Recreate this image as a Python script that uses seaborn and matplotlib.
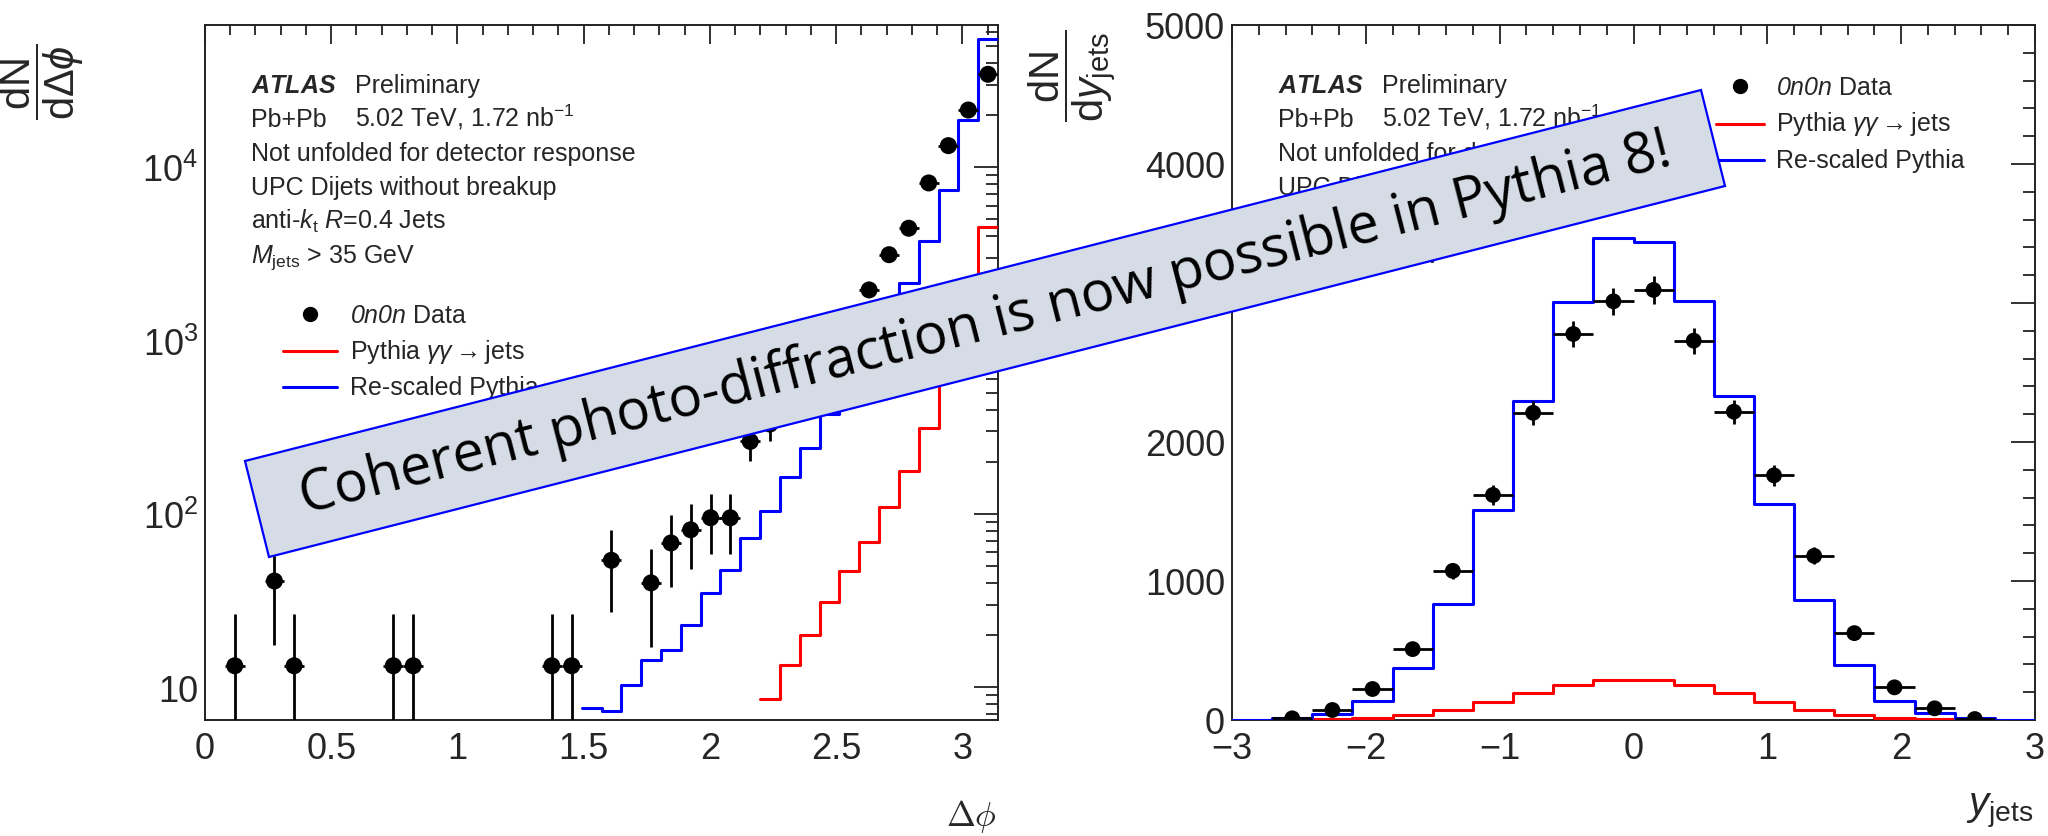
import numpy as np
import matplotlib
matplotlib.use("Agg")
import matplotlib.pyplot as plt
import matplotlib.ticker as mticker
from matplotlib.patches import Polygon
from matplotlib.lines import Line2D
import seaborn as sns

# ─── data: left panel, dN/dΔφ (40 bins over [0, π]) ──────────────────────────
DPHI_EDGES = np.linspace(0, np.pi, 41)
dphi_x = [0.118, 0.275, 0.353, 0.746, 0.825, 1.374, 1.453, 1.610, 1.767, 1.846,
          1.924, 2.003, 2.081, 2.160, 2.238, 2.317, 2.395, 2.474, 2.553, 2.631,
          2.710, 2.788, 2.867, 2.945, 3.024, 3.102]
dphi_data = [13.3, 41, 13.3, 13.3, 13.3, 13.3, 13.3, 54, 40, 68,
             81, 95, 95, 262, 330, 470, 680, 960, 1380, 1960,
             3130, 4450, 8120, 13330, 21400, 34400]
dphi_err = [13.3, 23.5, 13.3, 13.3, 13.3, 13.3, 13.3, 27, 23, 30,
            33, 36, 36, 59, 66, 79, 95, 113, 135, 161,
            203, 242, 328, 420, 530, 675]
# histograms start at bin 19 (re-scaled) and bin 28 (pythia)
dphi_rescaled = [7.6, 7.3, 10.3, 14.4, 16.3, 23, 34.8, 47.3, 72.4, 104.5,
                 164, 241, 377, 583, 900, 1390, 2150, 3770, 7430, 18740, 55000]
dphi_pythia = [8.6, 13.5, 20, 31, 46.7, 69, 109, 178, 312, 760, 1850, 4510]

# ─── data: right panel, dN/dy_jets (20 bins over [-3, 3]) ─────────────────────
Y_EDGES = np.linspace(-3, 3, 21)
yj_x = [-2.55, -2.25, -1.95, -1.65, -1.35, -1.05, -0.75, -0.45, -0.15,
        0.15, 0.45, 0.75, 1.05, 1.35, 1.65, 1.95, 2.25, 2.55]
yj_data = [12, 72, 223, 510, 1073, 1619, 2210, 2777, 3012,
           3094, 2729, 2218, 1760, 1181, 625, 235, 84, 7]
yj_err = [6, 15, 27, 40, 59, 72, 85, 95, 99,
          100, 94, 85, 76, 62, 45, 28, 16, 5]
yj_rescaled = [0, 12, 43, 139, 374, 831, 1511, 2295, 3010, 3465,
               3441, 3017, 2333, 1553, 866, 398, 139, 50, 12, 0]
yj_pythia = [0, 2, 7, 12, 36, 72, 132, 194, 254, 288,
             288, 254, 194, 130, 72, 36, 14, 7, 3, 0]

INFO_LINES = [
    ("Pb+Pb", "5.02 TeV, 1.72 nb$^{-1}$"),
    ("Not unfolded for detector response", None),
    ("UPC Dijets without breakup", None),
    (r"anti-$k_{\mathrm{t}}$ $R$=0.4 Jets", None),
    (r"$M_{\mathrm{jets}}$ > 35 GeV", None),
]
LEGEND_LABELS = [r"$\mathsf{0n0n}$ Data", r"Pythia $\gamma\gamma\rightarrow$jets", "Re-scaled Pythia"]
BANNER_TEXT = "Coherent photo-diffraction is now possible in Pythia 8!"

RED, BLUE = "#ff0000", "#0000ff"
W, H = 2048, 837

sns.set_style("white")
plt.rcParams.update({
    "font.family": ["Liberation Sans", "DejaVu Sans"],
    "mathtext.fontset": "custom",
    "mathtext.rm": "Liberation Sans",
    "mathtext.it": "Liberation Sans:italic",
    "mathtext.bf": "Liberation Sans:italic:bold",
    "mathtext.sf": "Liberation Sans:italic",
    "axes.unicode_minus": True,
})


def fx(px):
    return px / W


def fy(py):
    return 1 - py / H


def steps(ax, edges, values, color):
    xs = list(edges)
    ys = list(values) + [values[-1]]
    sns.lineplot(x=xs, y=ys, drawstyle="steps-post", color=color, linewidth=2.2,
                 estimator=None, sort=False, ax=ax, legend=False, zorder=3)


def points(ax, x, y, err, xerr, ms):
    ax.errorbar(x, y, yerr=err, xerr=xerr, fmt="none", ecolor="black",
                elinewidth=2.0, capsize=0, zorder=4)
    sns.scatterplot(x=x, y=y, color="black", s=ms, edgecolor="none", ax=ax,
                    zorder=5, legend=False)


def style_axes(ax):
    for sp in ax.spines.values():
        sp.set_linewidth(1.4)
        sp.set_color("#222222")
    ax.tick_params(which="both", direction="in", top=True, right=True,
                   width=1.3, color="#222222", labelsize=26)
    ax.tick_params(axis="x", which="major", length=13.5, pad=8)
    ax.tick_params(axis="x", which="minor", length=7)
    ax.tick_params(axis="y", which="major", length=17, pad=5)
    ax.tick_params(axis="y", which="minor", length=8.5)
    ax.set_xlabel("")
    ax.set_ylabel("")


def info_block(ax_left):
    x1, x2 = ax_left + 46, ax_left + 150
    fig.text(fx(x1), fy(93), r"$\mathbf{ATLAS}$", fontsize=18, va="baseline")
    fig.text(fx(x2), fy(93), "Preliminary", fontsize=18, va="baseline")
    for i, (a, b) in enumerate(INFO_LINES):
        yb = 127 + i * 34
        fig.text(fx(x1), fy(yb), a, fontsize=18, va="baseline")
        if b:
            fig.text(fx(x2), fy(yb), b, fontsize=18, va="baseline")


def legend_block(xl0, xl1, xt, y0, dy):
    xm = (xl0 + xl1) / 2
    fig.add_artist(Line2D([fx(xm)], [fy(y0 - 8)], marker="o", markersize=10,
                          color="black", transform=fig.transFigure))
    fig.add_artist(Line2D([fx(xl0), fx(xl1)], [fy(y0 + dy - 7)] * 2, color=RED,
                          linewidth=2.2, transform=fig.transFigure))
    fig.add_artist(Line2D([fx(xl0), fx(xl1)], [fy(y0 + 2 * dy - 7)] * 2, color=BLUE,
                          linewidth=2.2, transform=fig.transFigure))
    for i, lab in enumerate(LEGEND_LABELS):
        fig.text(fx(xt), fy(y0 + i * dy), lab, fontsize=18, va="baseline")


fig = plt.figure(figsize=(W / 100, H / 100), dpi=100)
ax1 = fig.add_axes([fx(205), fy(721), (998 - 205) / W, (721 - 26) / H])
ax2 = fig.add_axes([fx(1232), fy(721), (2035 - 1232) / W, (721 - 26) / H])

# ─── left: Δφ, log scale ─────────────────────────────────────────────────────
ax1.set_yscale("log", nonpositive="clip")
steps(ax1, DPHI_EDGES[19:], dphi_rescaled, BLUE)
steps(ax1, DPHI_EDGES[28:], dphi_pythia, RED)
points(ax1, dphi_x, dphi_data, dphi_err, (DPHI_EDGES[1] - DPHI_EDGES[0]) / 2, 150)
ax1.set_xlim(0, np.pi)
ax1.set_ylim(6.47, 66200)
ax1.xaxis.set_major_locator(mticker.MultipleLocator(0.5))
ax1.xaxis.set_minor_locator(mticker.MultipleLocator(0.1))
ax1.xaxis.set_major_formatter(mticker.FuncFormatter(lambda v, _: f"{v:g}"))
ax1.yaxis.set_major_locator(mticker.LogLocator(base=10, numticks=10))
ax1.yaxis.set_minor_locator(mticker.LogLocator(base=10, subs=np.arange(2, 10) * 1.0, numticks=20))
ax1.yaxis.set_minor_formatter(mticker.NullFormatter())
ax1.yaxis.set_major_formatter(mticker.FuncFormatter(
    lambda v, _: "10" if abs(v - 10) < 1e-6 else r"$\mathregular{10^{%d}}$" % round(np.log10(v))))
style_axes(ax1)

# ─── right: y_jets, linear ───────────────────────────────────────────────────
steps(ax2, Y_EDGES, yj_pythia, RED)
steps(ax2, Y_EDGES, yj_rescaled, BLUE)
points(ax2, yj_x, yj_data, yj_err, (Y_EDGES[1] - Y_EDGES[0]) / 2, 130)
ax2.set_xlim(-3, 3)
ax2.set_ylim(0, 5000)
ax2.xaxis.set_major_locator(mticker.MultipleLocator(1))
ax2.xaxis.set_minor_locator(mticker.MultipleLocator(0.2))
ax2.yaxis.set_major_locator(mticker.MultipleLocator(1000))
ax2.yaxis.set_minor_locator(mticker.MultipleLocator(200))
style_axes(ax2)

# ─── texts ───────────────────────────────────────────────────────────────────
info_block(205)
info_block(1232)
legend_block(283, 337, 350, 323, 36)
legend_block(1716, 1764, 1776, 95, 36.5)

fig.text(fx(997), fy(826), r"$\Delta\phi$", fontsize=25, ha="right", va="baseline",
         math_fontfamily="cm")
fig.text(fx(2033), fy(815), r"$y_{\mathrm{jets}}$", fontsize=29, ha="right", va="baseline")
fig.text(fx(42), fy(82), r"$\dfrac{\mathrm{dN}}{\mathrm{d}\Delta\phi}$", fontsize=30,
         rotation=90, ha="center", va="center")
fig.text(fx(1072), fy(76), r"$\dfrac{\mathrm{dN}}{\mathrm{d}y_{\mathrm{jets}}}$", fontsize=30,
         rotation=90, ha="center", va="center")

# ─── banner ──────────────────────────────────────────────────────────────────
corners = [(245, 462), (1701, 91), (1725, 187), (269, 558)]
fig.add_artist(Polygon([(fx(x), fy(y)) for x, y in corners], closed=True,
                       facecolor="#d6dce5", edgecolor=BLUE, linewidth=1.6,
                       transform=fig.transFigure, zorder=20))
renderer = fig.canvas.get_renderer()
probe = fig.text(0, 0, BANNER_TEXT, fontsize=40, family="Open Sans")
w40 = probe.get_window_extent(renderer).width
probe.remove()
cx = sum(c[0] for c in corners) / 4
cy = sum(c[1] for c in corners) / 4
angle = np.degrees(np.arctan2(462 - 91, 1701 - 245))
fig.text(fx(cx), fy(cy), BANNER_TEXT, fontsize=40 * 1410 / w40, family="Open Sans",
         rotation=angle, rotation_mode="anchor", ha="center", va="center",
         color="black", zorder=21)

fig.savefig("out.png", dpi=100)
